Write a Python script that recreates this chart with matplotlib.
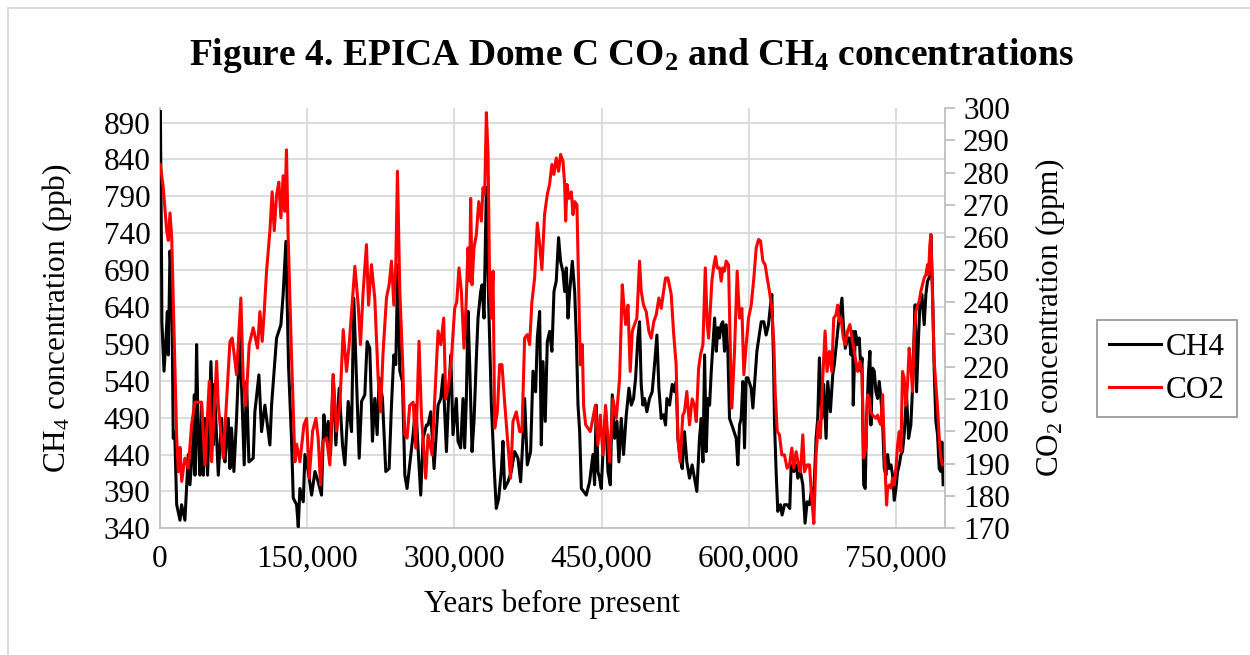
import matplotlib
matplotlib.use("Agg")
import matplotlib.pyplot as plt
from matplotlib.ticker import FuncFormatter, MultipleLocator
from matplotlib.patches import Rectangle

plt.rcParams['font.family'] = ['Liberation Serif', 'DejaVu Serif']
plt.rcParams['mathtext.fontset'] = 'custom'
plt.rcParams['mathtext.rm'] = 'Liberation Serif'
plt.rcParams['mathtext.it'] = 'Liberation Serif:italic'
plt.rcParams['mathtext.bf'] = 'Liberation Serif:bold'

# years before present (thousands) and CH4 (ppb)
ch4_kyr = [0.4, 1.7, 1.9, 4.1, 6.1, 7.5, 8.5, 10.2, 12.0, 13.5, 15.0, 17.0, 20.4, 22.0,
           25.4, 28.8, 30.5, 34.0, 35.0, 35.6, 37.3, 39.0, 40.7, 42.4, 44.1, 45.8, 48.5,
           51.9, 54.3, 55.3, 59.4, 62.8, 64.5, 66.2, 69.6, 71.3, 72.9, 75.3, 78.0, 81.4,
           85.8, 88.2, 90.6, 95.0, 96.7, 100.8, 103.5, 106.9, 112.0, 113.7, 118.8, 123.2,
           125.5, 128.3, 131.0, 134.0, 135.8, 139.2, 140.9, 142.6, 146.0, 147.7, 151.1,
           154.5, 157.9, 161.2, 164.6, 167.0, 169.0, 171.4, 173.8, 176.5, 179.2, 182.6,
           186.0, 188.4, 191.8, 195.2, 197.5, 200.3, 203.0, 205.4, 208.7, 211.1, 213.8,
           216.5, 218.9, 221.3, 223.3, 226.7, 230.1, 233.5, 235.9, 238.3, 240.3, 242.3,
           244.4, 247.1, 249.5, 251.8, 254.5, 257.9, 260.7, 263.0, 265.7, 268.1, 271.5,
           273.2, 275.9, 279.3, 281.7, 283.4, 286.1, 288.5, 291.9, 294.2, 296.3, 298.6,
           302.0, 303.7, 306.4, 308.8, 310.5, 312.2, 313.9, 315.6, 318.0, 320.0, 322.4,
           324.1, 326.8, 328.2, 330.2, 332.6, 335.0, 337.7, 340.4, 342.7, 345.1, 347.8,
           349.5, 351.2, 354.6, 358.0, 361.4, 364.8, 367.5, 369.9, 371.6, 374.3, 377.7,
           380.1, 382.8, 384.5, 386.9, 388.6, 390.3, 392.6, 394.7, 397.1, 399.4, 401.5,
           403.8, 406.2, 408.2, 410.6, 412.4, 414.1, 415.8, 417.5, 420.2, 422.6, 424.3,
           426.0, 427.7, 429.4, 431.7, 434.4, 437.8, 441.2, 442.9, 444.6, 446.3, 448.0,
           449.7, 452.1, 454.1, 456.5, 458.9, 460.9, 463.3, 465.7, 467.7, 470.1, 472.4,
           475.2, 477.9, 480.3, 482.6, 484.7, 487.0, 488.7, 490.4, 492.1, 493.8, 496.2,
           498.9, 501.6, 504.0, 506.4, 508.4, 510.8, 513.2, 515.2, 516.6, 519.3, 522.0,
           524.4, 526.1, 527.8, 530.1, 532.2, 534.5, 536.9, 539.6, 542.3, 544.7, 547.1,
           549.8, 551.6, 553.3, 555.0, 556.7, 558.4, 560.1, 561.8, 563.5, 565.2, 566.9,
           568.6, 570.2, 571.9, 573.6, 575.3, 577.0, 578.7, 580.4, 583.8, 587.2, 588.9,
           590.6, 592.3, 594.0, 595.7, 597.4, 599.1, 602.5, 604.2, 605.9, 608.3, 610.3,
           612.7, 615.4, 617.7, 620.1, 622.2, 623.5, 625.2, 626.2, 627.9, 629.6, 632.3,
           634.0, 636.4, 639.1, 641.8, 643.2, 645.9, 648.3, 650.0, 652.7, 655.1, 657.4,
           659.5, 661.9, 664.2, 666.3, 668.6, 670.3, 672.0, 674.4, 676.4, 678.8, 680.5,
           683.2, 685.6, 687.2, 689.6, 691.6, 694.0, 695.0, 696.4, 698.4, 700.8, 702.5,
           704.2, 705.9, 706.5, 708.6, 711.0, 712.6, 714.3, 715.4, 717.1, 718.7, 720.1,
           722.1, 723.5, 724.5, 726.2, 727.9, 729.6, 731.3, 733.0, 734.7, 736.4, 738.1,
           739.8, 741.5, 743.2, 744.9, 746.6, 748.3, 750.0, 751.7, 753.4, 755.1, 756.7,
           758.4, 760.8, 762.9, 765.2, 766.9, 768.6, 769.6, 771.0, 773.0, 774.4, 776.4,
           778.8, 780.5, 782.2, 783.9, 785.6, 787.3, 789.0, 790.7, 792.4, 794.1, 795.8,
           796.8, 798.1]
ch4_ppb = [905, 679, 620, 553, 598, 634, 575, 716, 670, 462, 470, 372, 351, 372,
           351, 440, 399, 462, 521, 412, 589, 462, 412, 507, 412, 489, 412,
           566, 453, 535, 412, 489, 444, 430, 489, 421, 476, 417, 489, 602,
           426, 539, 430, 435, 498, 548, 471, 507, 453, 507, 598, 616,
           657, 729, 560, 462, 381, 372, 342, 394, 376, 440, 417,
           385, 417, 403, 385, 494, 462, 485, 440, 548, 453, 530,
           453, 426, 512, 471, 652, 539, 435, 512, 521, 593, 584,
           458, 516, 467, 544, 516, 417, 421, 507, 575, 562, 697,
           553, 539, 412, 394, 426, 467, 507, 448, 385, 462, 480,
           480, 498, 421, 471, 507, 516, 548, 444, 521, 575, 467,
           516, 458, 449, 516, 449, 516, 634, 562, 444, 485, 571,
           625, 661, 670, 625, 802, 643, 507, 426, 367, 380, 417,
           458, 394, 403, 417, 444, 435, 403, 462, 516, 426, 444,
           553, 525, 598, 634, 453, 566, 485, 593, 607, 580, 661,
           675, 734, 702, 688, 661, 693, 625, 661, 702, 661, 598,
           507, 471, 394, 390, 385, 403, 440, 399, 507, 417, 408,
           394, 462, 498, 417, 399, 521, 462, 485, 430, 489, 440,
           494, 530, 507, 516, 544, 598, 620, 535, 507, 516, 498,
           516, 525, 562, 602, 530, 489, 494, 480, 516, 507, 535,
           525, 539, 462, 435, 421, 471, 430, 408, 426, 408, 390,
           462, 489, 430, 575, 444, 516, 507, 553, 589, 625, 580,
           612, 598, 616, 620, 580, 616, 580, 489, 476, 462, 426,
           480, 489, 539, 449, 544, 544, 530, 503, 535, 580, 598,
           620, 620, 602, 616, 643, 657, 571, 485, 417, 363, 372,
           358, 372, 372, 367, 426, 417, 426, 408, 417, 399, 347,
           376, 372, 394, 385, 462, 489, 571, 489, 535, 462, 539,
           498, 548, 562, 593, 620, 643, 652, 616, 584, 598, 598,
           575, 607, 507, 607, 589, 598, 553, 571, 399, 394, 489,
           553, 580, 480, 557, 553, 525, 516, 539, 516, 485, 421,
           412, 440, 421, 426, 412, 378, 394, 417, 426, 440, 444,
           467, 521, 462, 480, 530, 607, 643, 525, 598, 643, 657,
           616, 657, 675, 680, 738, 661, 553, 485, 467, 421, 417,
           457, 399]

# years before present (thousands) and CO2 (ppm)
co2_kyr = [0.3, 3.4, 6.8, 8.5, 10.2, 11.9, 13.6, 15.3, 17.0, 18.7, 20.4, 22.1, 25.4,
           28.8, 32.2, 35.6, 42.4, 45.8, 50.2, 52.6, 57.7, 59.4, 64.5, 71.3, 73.6, 78.0,
           82.4, 84.8, 87.5, 90.9, 95.0, 99.4, 101.8, 104.2, 106.2, 108.6, 112.0, 114.3,
           116.4, 118.8, 121.1, 123.2, 125.5, 127.2, 128.9, 130.6, 134.0, 137.5, 139.2,
           142.6, 146.7, 149.4, 152.1, 155.5, 158.9, 161.2, 163.6, 165.7, 169.7, 173.1,
           176.5, 179.9, 183.3, 186.7, 190.1, 192.8, 195.2, 198.6, 202.0, 204.3, 207.0,
           210.4, 212.5, 215.5, 218.9, 222.3, 224.7, 227.4, 230.8, 233.5, 235.9, 238.3,
           240.3, 242.0, 244.4, 247.1, 249.5, 251.8, 254.5, 258.0, 260.7, 264.0, 266.4,
           270.8, 273.2, 277.3, 280.0, 283.4, 286.1, 289.1, 291.2, 294.2, 297.0, 300.3,
           302.4, 304.7, 307.1, 309.8, 311.9, 313.9, 315.6, 316.6, 318.0, 320.0, 322.4,
           324.8, 327.5, 329.2, 330.9, 332.6, 334.3, 336.0, 337.7, 339.4, 341.1, 343.8,
           346.1, 348.5, 351.2, 354.6, 357.3, 359.7, 363.1, 366.5, 368.9, 371.6, 374.3,
           376.7, 379.0, 381.8, 384.5, 386.9, 389.2, 391.9, 394.7, 397.0, 399.4, 401.4,
           403.8, 406.2, 408.2, 410.7, 412.4, 413.4, 414.8, 416.8, 419.2, 420.9, 422.6,
           424.9, 427.0, 428.3, 430.4, 431.7, 433.8, 436.1, 438.5, 441.2, 443.6, 446.3,
           448.7, 451.4, 454.1, 456.5, 458.2, 461.6, 465.0, 468.4, 471.1, 472.4, 474.5,
           476.9, 479.2, 481.3, 483.6, 486.0, 488.7, 490.4, 492.8, 495.5, 498.2, 500.6,
           503.3, 505.7, 508.4, 510.8, 513.2, 515.2, 517.6, 521.0, 523.3, 526.0, 527.8,
           530.1, 532.8, 534.5, 536.9, 539.6, 542.3, 544.7, 546.5, 548.9, 550.9, 553.3,
           555.7, 557.7, 559.1, 561.1, 562.4, 564.5, 566.2, 567.9, 570.2, 571.9, 573.6,
           575.3, 577.0, 579.4, 581.4, 582.8, 585.5, 588.2, 590.6, 593.0, 595.0, 597.4,
           599.8, 602.5, 605.2, 607.6, 610.0, 612.0, 614.4, 616.7, 618.8, 621.1, 623.5,
           625.6, 626.9, 629.0, 631.3, 633.7, 636.4, 639.1, 641.5, 643.9, 645.9, 648.3,
           650.7, 652.7, 655.1, 656.8, 659.5, 661.9, 664.2, 666.3, 668.6, 671.0, 673.0,
           675.4, 677.8, 679.8, 682.2, 684.6, 686.6, 688.9, 690.6, 692.3, 694.0, 696.4,
           698.4, 700.8, 703.1, 705.2, 706.5, 708.6, 711.0, 713.3, 715.4, 717.1, 719.4,
           721.1, 722.8, 724.5, 726.2, 727.9, 729.6, 731.3, 733.0, 734.7, 736.4, 737.4,
           739.1, 740.5, 741.5, 743.2, 744.9, 746.6, 748.3, 750.0, 751.7, 753.4, 755.1,
           756.7, 758.4, 760.1, 761.8, 763.5, 765.2, 766.9, 768.6, 770.3, 772.0, 773.7,
           775.4, 777.1, 778.8, 780.5, 782.2, 783.2, 784.6, 785.6, 787.3, 789.0, 790.7,
           792.4, 794.1, 795.8, 797.5]
co2_ppm = [282.5, 275, 262, 259, 267.5, 260, 239, 218.5, 198, 187.5, 195, 184.5, 191.7,
           188.6, 202, 209, 209, 189.6, 215.4, 190.6, 221.6, 208, 191.7, 227.8, 228.8, 217.5,
           241.2, 216, 208, 226.8, 232, 225.7, 237, 227.8, 237, 249.5, 262, 274,
           262, 273, 277, 266, 279, 268, 287, 260, 223.7, 190.6, 196,
           190.6, 202, 204, 185.5, 200, 204, 197.9, 183.4, 196.8, 197.9, 189.6,
           217.5, 200, 208, 231.4, 218.5, 226.8, 237, 251, 239, 226.8, 243,
           257.7, 239, 251.5, 241, 216.4, 206, 224.7, 241.2, 245.3, 252.6, 239,
           251.5, 280.4, 243.3, 222.6, 199, 197.9, 208, 209, 194.8, 227.8, 205,
           185.5, 198.9, 192.7, 210, 231, 226.8, 235, 210, 214.4, 222.6, 238,
           240, 250.5, 243.3, 225.7, 239, 256.7, 246.4, 272, 245.3, 256.7, 260.8,
           271, 265, 275.3, 273.2, 298.5, 285.6, 243.3, 235, 249.5, 201, 206,
           220.6, 220.6, 209, 195.8, 185.5, 203, 206, 199.9, 199.9, 228.8, 229.9,
           226.8, 240, 247.4, 264.4, 257.7, 250, 267, 273.2, 276.3, 282.5, 279.4,
           284.5, 280.4, 285.6, 283.5, 276.3, 265, 276.3, 272, 274, 267, 271,
           270, 239, 220.6, 226.8, 208, 202, 201, 199.9, 204, 208, 195.8,
           205, 192.7, 208, 197.9, 190.6, 210, 204, 216.4, 245.3, 240.2, 233,
           239, 218.5, 230.9, 233, 235, 252.6, 243.3, 239, 237, 230.9, 228.8,
           234, 236, 241.2, 238, 243.3, 247.4, 247.4, 242.3, 230.9, 220.6, 197.9,
           190.6, 205, 206, 212.3, 202, 210, 208, 203, 219.5, 223.7, 226.8,
           250.5, 233, 228.8, 239, 246.4, 251.5, 254, 250.5, 250.5, 246.4, 250.5,
           249.5, 252.6, 251.5, 222.6, 207.2, 224.7, 249.5, 235, 238, 217.5, 226.8,
           235, 239, 247.4, 256.7, 259.3, 258.8, 252.6, 251.5, 247.4, 243.3, 238,
           226.8, 212.3, 200, 198.9, 192.7, 192.7, 188.6, 189.6, 194.8, 188.6, 193.7,
           189.6, 187.5, 198.9, 187.5, 189.6, 189.6, 179.3, 171.5, 192.7, 203, 197.9,
           216.4, 231, 218.5, 224.7, 218.5, 235, 236, 239, 234, 235, 228.8,
           226.8, 231, 233, 228.8, 226.8, 222.6, 218.5, 221.6, 218.5, 191.7, 194.8,
           211.3, 210.2, 206, 205, 204.5, 204, 205, 203, 202, 211.3, 202,
           187.5, 177.2, 182.4, 183.4, 182.4, 185.5, 183.4, 188.6, 195.8, 199.9, 193.7,
           218.5, 216.4, 208, 214.4, 225.7, 220.6, 212.3, 228.8, 237, 239, 240.2,
           243.3, 245.3, 247.4, 248.4, 251.5, 248.4, 257.7, 260.8, 241.2, 221.6, 214.4,
           207.2, 197.9, 191.7, 189.6]

ch4_ticks = list(range(340, 891, 50))
co2_ticks = list(range(170, 301, 10))

ch4_years = [k * 1000 for k in ch4_kyr]
co2_years = [k * 1000 for k in co2_kyr]

fs = 22.5
fig = plt.figure(figsize=(12.5, 6.55), dpi=100)
ax = fig.add_axes([0.128, 0.1934, 0.628, 0.642])
ax2 = ax.twinx()

grid_c = "#d9d9d9"
ln1, = ax.plot(ch4_years, ch4_ppb, color="black", lw=2.2, label="CH4", zorder=3)
ln2, = ax2.plot(co2_years, co2_ppm, color="#ff0000", lw=2.2, label="CO2", zorder=3)

ax.set_xlim(0, 800000)
ax.set_ylim(340, 910)
ax2.set_ylim(170, 300)
ax.xaxis.set_major_locator(MultipleLocator(150000))
ax.set_yticks(ch4_ticks)
ax2.set_yticks(co2_ticks)
ax.xaxis.set_major_formatter(FuncFormatter(lambda v, p: f"{int(v):,}"))

ax.grid(True, color=grid_c, lw=1.3)
ax.set_axisbelow(True)
for s in ["top", "right"]:
    ax.spines[s].set_visible(False)
ax.spines["left"].set_color("#bfbfbf")
ax.spines["bottom"].set_color("#bfbfbf")
ax.spines["left"].set_linewidth(1.3)
ax.spines["bottom"].set_linewidth(1.3)
for s in ["top", "left", "bottom"]:
    ax2.spines[s].set_visible(False)
ax2.spines["right"].set_color("#bfbfbf")
ax2.spines["right"].set_linewidth(1.3)

ax.tick_params(axis="y", length=0, labelsize=fs, pad=7)
ax.tick_params(axis="x", length=0, labelsize=fs, pad=12)
ax2.tick_params(axis="y", length=7, width=1.3, color="#bfbfbf", labelsize=fs, pad=6)

ax.set_xlabel("Years before present", fontsize=fs)
ax.set_ylabel(r"CH$_4$ concentration (ppb)", fontsize=fs)
ax2.set_ylabel(r"CO$_2$ concentration (ppm)", fontsize=fs)
ax.xaxis.set_label_coords(0.5, -0.145)
ax.yaxis.set_label_coords(-0.11, 0.5)
ax2.yaxis.set_label_coords(1.112, 0.5)

fig.text(0.505, 0.916,
         r"Figure 4. EPICA Dome C CO$_\mathbf{2}$ and CH$_\mathbf{4}$ concentrations",
         fontsize=27, fontweight="bold", ha="center", va="center")

leg = fig.legend(handles=[ln1, ln2], loc="center", bbox_to_anchor=(0.9335, 0.437),
                 fontsize=fs, frameon=True, fancybox=False, handlelength=1.65,
                 handletextpad=0.15, borderpad=0.4, labelspacing=0.45, borderaxespad=0)
leg.get_frame().set_edgecolor("#808080")
leg.get_frame().set_linewidth(1.3)

fig.patches.append(Rectangle((0.006, -0.01), 1.0, 0.998, transform=fig.transFigure,
                             fill=False, edgecolor="#d9d9d9", lw=1.3))

fig.savefig("out.png", dpi=100)
